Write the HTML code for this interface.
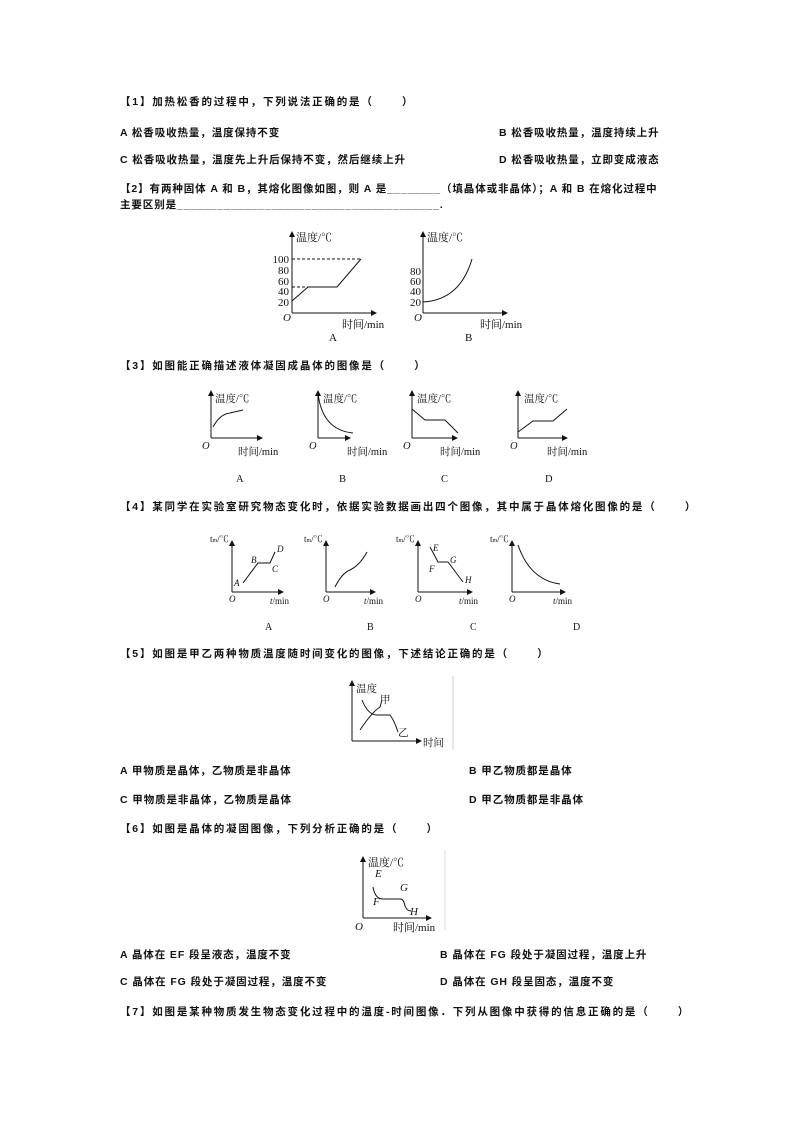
<!DOCTYPE html>
<html><head><meta charset="utf-8"><style>
body{margin:0;background:#fff;}
#p{position:relative;width:794px;height:1123px;overflow:hidden;font-family:"Liberation Serif","Noto Serif CJK SC","Noto Sans CJK SC",serif;}
.t{position:absolute;white-space:nowrap;font-size:10.5px;font-weight:bold;letter-spacing:0.9px;color:#111;line-height:12px;font-family:"Liberation Sans","Noto Sans CJK SC",sans-serif;}
.s{letter-spacing:1.8px;}
svg{position:absolute;left:0;top:0;}
svg text{font-family:"Liberation Serif","Noto Serif CJK SC",serif;fill:#111;}
</style></head><body><div id="p">
<div class="t s" style="left:120px;top:96px">【1】加热松香的过程中，下列说法正确的是（&nbsp;&nbsp;&nbsp;&nbsp;&nbsp;&nbsp;）</div>
<div class="t" style="left:120px;top:127px">A 松香吸收热量，温度保持不变</div>
<div class="t" style="left:499px;top:127px">B 松香吸收热量，温度持续上升</div>
<div class="t" style="left:120px;top:154px">C 松香吸收热量，温度先上升后保持不变，然后继续上升</div>
<div class="t" style="left:499px;top:154px">D 松香吸收热量，立即变成液态</div>
<div class="t" style="left:120px;top:183px">【2】有两种固体 A 和 B，其熔化图像如图，则 A 是________（填晶体或非晶体）；A 和 B 在熔化过程中</div>
<div class="t" style="left:120px;top:199px">主要区别是_______________________________________.</div>
<div class="t s" style="left:120px;top:360px">【3】如图能正确描述液体凝固成晶体的图像是（&nbsp;&nbsp;&nbsp;&nbsp;&nbsp;&nbsp;）</div>
<div class="t s" style="left:120px;top:501px">【4】某同学在实验室研究物态变化时，依据实验数据画出四个图像，其中属于晶体熔化图像的是（&nbsp;&nbsp;&nbsp;&nbsp;&nbsp;&nbsp;）</div>
<div class="t s" style="left:120px;top:648px">【5】如图是甲乙两种物质温度随时间变化的图像，下述结论正确的是（&nbsp;&nbsp;&nbsp;&nbsp;&nbsp;&nbsp;）</div>
<div class="t" style="left:120px;top:765px">A 甲物质是晶体，乙物质是非晶体</div>
<div class="t" style="left:469px;top:765px">B 甲乙物质都是晶体</div>
<div class="t" style="left:120px;top:794px">C 甲物质是非晶体，乙物质是晶体</div>
<div class="t" style="left:469px;top:794px">D 甲乙物质都是非晶体</div>
<div class="t s" style="left:120px;top:823px">【6】如图是晶体的凝固图像，下列分析正确的是（&nbsp;&nbsp;&nbsp;&nbsp;&nbsp;&nbsp;）</div>
<div class="t" style="left:120px;top:949px">A 晶体在 EF 段呈液态，温度不变</div>
<div class="t" style="left:440px;top:949px">B 晶体在 FG 段处于凝固过程，温度上升</div>
<div class="t" style="left:120px;top:976px">C 晶体在 FG 段处于凝固过程，温度不变</div>
<div class="t" style="left:440px;top:976px">D 晶体在 GH 段呈固态，温度不变</div>
<div class="t s" style="left:120px;top:1006px">【7】如图是某种物质发生物态变化过程中的温度-时间图像．下列从图像中获得的信息正确的是（&nbsp;&nbsp;&nbsp;&nbsp;&nbsp;&nbsp;）</div>

<svg width="794" height="1123" viewBox="0 0 794 1123">
<defs><marker id="a" markerWidth="6" markerHeight="6" refX="5" refY="3" orient="auto"><path d="M0,0 L6,3 L0,6 z" fill="#111"/></marker></defs>
<g stroke="#111" stroke-width="1" fill="none">
<line x1="292" y1="313" x2="292" y2="232" marker-end="url(#a)"/>
<line x1="292" y1="313" x2="376" y2="313" marker-end="url(#a)"/>
<polyline points="292,301 308,287 337,287 361,259"/>
<line x1="292" y1="259" x2="361" y2="259" stroke-dasharray="3,2"/>
<line x1="292" y1="287" x2="308" y2="287" stroke-dasharray="3,2"/>
<line x1="423" y1="313" x2="423" y2="232" marker-end="url(#a)"/>
<line x1="423" y1="313" x2="507" y2="313" marker-end="url(#a)"/>
<path d="M423,302 Q460,300 472,259"/>
<line x1="211" y1="438" x2="211" y2="391" marker-end="url(#a)"/><line x1="211" y1="438" x2="262" y2="438" marker-end="url(#a)"/>
<path d="M213,427 Q220,414 230,413 L243,410"/>
<line x1="318" y1="438" x2="318" y2="391" marker-end="url(#a)"/><line x1="318" y1="438" x2="350" y2="438" marker-end="url(#a)"/>
<path d="M318,393 Q322,430 353,433"/>
<line x1="412" y1="438" x2="412" y2="391" marker-end="url(#a)"/><line x1="412" y1="438" x2="457" y2="438" marker-end="url(#a)"/>
<polyline points="412,409 425,420 445,420 458,433"/>
<line x1="518" y1="438" x2="518" y2="391" marker-end="url(#a)"/><line x1="518" y1="438" x2="567" y2="438" marker-end="url(#a)"/>
<polyline points="518,432 533,421 553,421 567,409"/>
<line x1="232" y1="592" x2="232" y2="541" marker-end="url(#a)"/><line x1="232" y1="592" x2="283" y2="592" marker-end="url(#a)"/>
<polyline points="243,583 258,563 270,563 275,552"/>
<line x1="326" y1="592" x2="326" y2="541" marker-end="url(#a)"/><line x1="326" y1="592" x2="375" y2="592" marker-end="url(#a)"/>
<path d="M335,587 Q342,573 350,570 Q360,565 367,552"/>
<line x1="418" y1="592" x2="418" y2="541" marker-end="url(#a)"/><line x1="418" y1="592" x2="472" y2="592" marker-end="url(#a)"/>
<polyline points="430,547 438,562 448,562 463,582"/>
<line x1="512" y1="592" x2="512" y2="541" marker-end="url(#a)"/><line x1="512" y1="592" x2="565" y2="592" marker-end="url(#a)"/>
<path d="M518,545 Q530,580 560,584"/>
<line x1="352" y1="741" x2="352" y2="681" marker-end="url(#a)"/><line x1="352" y1="741" x2="421" y2="741" marker-end="url(#a)"/>
<path d="M360,730 Q372,712 380,707 L382,700"/>
<path d="M362,700 Q368,715 377,715 L390,715 Q394,720 398,732"/>
<line x1="453" y1="676" x2="453" y2="750" stroke="#ccc"/>
<line x1="363" y1="918" x2="363" y2="857" marker-end="url(#a)"/><line x1="363" y1="918" x2="431" y2="918" marker-end="url(#a)"/>
<path d="M373,887 Q375,899 383,899 L401,899 Q404,900 405,906 Q407,911 411,911"/>
<line x1="445" y1="850" x2="445" y2="930" stroke="#ddd"/>
</g>
<g font-size="11">
<text x="296" y="241">温度/℃</text>
<text x="289" y="263" text-anchor="end">100</text><text x="289" y="274" text-anchor="end">80</text><text x="289" y="285" text-anchor="end">60</text><text x="289" y="295" text-anchor="end">40</text><text x="289" y="306" text-anchor="end">20</text>
<text x="283" y="321" font-style="italic">O</text>
<text x="342" y="328">时间/min</text><text x="329" y="341">A</text>
<text x="427" y="241">温度/℃</text>
<text x="421" y="275" text-anchor="end">80</text><text x="421" y="285" text-anchor="end">60</text><text x="421" y="295" text-anchor="end">40</text><text x="421" y="306" text-anchor="end">20</text>
<text x="414" y="321" font-style="italic">O</text>
<text x="480" y="328">时间/min</text><text x="465" y="341">B</text>
<g font-size="10.5">
<text x="215" y="402">温度/℃</text><text x="202" y="449" font-style="italic">O</text><text x="238" y="455">时间/min</text><text x="236" y="482">A</text>
<text x="323" y="402">温度/℃</text><text x="309" y="449" font-style="italic">O</text><text x="347" y="455">时间/min</text><text x="339" y="482">B</text>
<text x="417" y="402">温度/℃</text><text x="403" y="449" font-style="italic">O</text><text x="440" y="455">时间/min</text><text x="441" y="482">C</text>
<text x="524" y="402">温度/℃</text><text x="510" y="449" font-style="italic">O</text><text x="547" y="455">时间/min</text><text x="545" y="482">D</text>
</g>
<g font-size="9">
<text x="210" y="542">t<tspan font-size="6">m</tspan>/℃</text><text x="304" y="542">t<tspan font-size="6">m</tspan>/℃</text><text x="396" y="542">t<tspan font-size="6">m</tspan>/℃</text><text x="490" y="542">t<tspan font-size="6">m</tspan>/℃</text>
<g font-style="italic"><text x="234" y="586">A</text><text x="251" y="563">B</text><text x="272" y="572">C</text><text x="277" y="552">D</text>
<text x="433" y="551">E</text><text x="429" y="572">F</text><text x="450" y="563">G</text><text x="465" y="583">H</text>
<text x="229" y="602">O</text><text x="323" y="602">O</text><text x="415" y="602">O</text><text x="509" y="602">O</text></g>
<text x="270" y="604"><tspan font-style="italic">t</tspan>/min</text><text x="364" y="604"><tspan font-style="italic">t</tspan>/min</text><text x="459" y="604"><tspan font-style="italic">t</tspan>/min</text><text x="553" y="604"><tspan font-style="italic">t</tspan>/min</text>
<text x="265" y="630" font-size="10">A</text><text x="367" y="630" font-size="10">B</text><text x="470" y="630" font-size="10">C</text><text x="573" y="630" font-size="10">D</text>
</g>
<text x="356" y="692" font-size="10.5">温度</text><text x="380" y="703" font-size="10.5">甲</text><text x="398" y="736" font-size="10.5">乙</text><text x="423" y="746" font-size="10.5">时间</text>
<text x="368" y="866">温度/℃</text>
<g font-style="italic"><text x="375" y="877">E</text><text x="373" y="905">F</text><text x="400" y="891">G</text><text x="410" y="915">H</text><text x="355" y="930">O</text></g>
<text x="393" y="931">时间/min</text>
</g>
</svg>
</div></body></html>
